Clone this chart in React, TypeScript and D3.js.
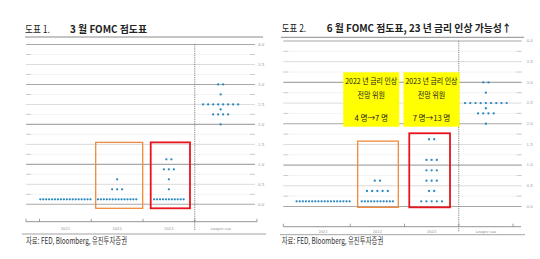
import React from 'react';
import * as d3 from 'd3';

const categories = ['2021', '2022', '2023', 'Longer run'];
const yTickValues = d3.range(0, 4.01, 0.25);
const yLabelValues = [0, 0.5, 1, 1.5, 2, 2.5, 3, 3.5, 4];

type DotRow = [string, number, number];

const marchDots: DotRow[] = [
  ['2021', 0.125, 18],
  ['2022', 0.125, 14], ['2022', 0.375, 3], ['2022', 0.625, 1],
  ['2023', 0.125, 11], ['2023', 0.375, 1], ['2023', 0.625, 1], ['2023', 0.875, 3], ['2023', 1.125, 2],
  ['Longer run', 2.0, 1], ['Longer run', 2.25, 4], ['Longer run', 2.375, 1], ['Longer run', 2.5, 8],
  ['Longer run', 2.75, 1], ['Longer run', 3.0, 2],
];

const juneDots: DotRow[] = [
  ['2021', 0.125, 18],
  ['2022', 0.125, 11], ['2022', 0.375, 5], ['2022', 0.625, 2],
  ['2023', 0.125, 5], ['2023', 0.375, 2], ['2023', 0.625, 3], ['2023', 0.875, 3], ['2023', 1.125, 3], ['2023', 1.625, 2],
  ['Longer run', 2.0, 1], ['Longer run', 2.25, 4], ['Longer run', 2.375, 1], ['Longer run', 2.5, 9],
  ['Longer run', 2.75, 1], ['Longer run', 3.0, 2],
];

const marchBoxes = [
  { cat: '2022', f0: 0.086, f1: 0.994, y0: -0.1, y1: 1.55, color: '#f08a3c', w: 1.3 },
  { cat: '2023', f0: 0.149, f1: 0.908, y0: -0.1, y1: 1.55, color: '#e8141c', w: 1.8 },
];
const juneBoxes = [
  { cat: '2022', f0: 0.137, f1: 0.886, y0: -0.02, y1: 1.58, color: '#f08a3c', w: 1.3 },
  { cat: '2023', f0: 0.088, f1: 0.839, y0: -0.02, y1: 1.77, color: '#e8141c', w: 1.8 },
];

const juneNotes = [
  { cat: '2022', lines: ['2022 년 금리 인상', '전망 위원', '4 명→7 명'] },
  { cat: '2023', lines: ['2023 년 금리 인상', '전망 위원', '7 명→13 명'] },
];

const FONT = "'Noto Sans CJK KR', 'Noto Sans', sans-serif";
const DOT = '#2a88c0';

interface PanelCfg {
  label: string;
  title: string;
  labelX: number; labelW: number;
  titleX: number; titleW: number; titleY: number;
  sepX0: number; sepX1: number; sepY: number;
  gridX0: number; gridX1: number; yLabelX: number;
  yBottom: number; yTop: number;
  band: [number, number];
  axisY: number; axisX0: number; axisX1: number;
  tickXs: number[];
  dashY0: number; dashY1: number;
  xLabelY: number;
  srcSepX0: number; srcSepX1: number; srcSepY: number;
  srcX: number; srcW: number; srcY: number;
  dots: DotRow[];
  boxes: typeof marchBoxes;
  wide: number; tight: number;
}

function Panel({ c, notes }: { c: PanelCfg; notes?: typeof juneNotes }) {
  const y = d3.scaleLinear().domain([0, 4]).range([c.yBottom, c.yTop]);
  const x = d3.scaleBand<string>().domain(categories).range(c.band).padding(0);
  const bw = x.bandwidth();
  const dashX = x('Longer run')!;
  const dotEls: React.ReactNode[] = [];
  c.dots.forEach(([cat, v, n], i) => {
    const sp = n > 9 ? c.tight : c.wide;
    const cx = x(cat)! + bw / 2;
    for (let k = 0; k < n; k++) {
      dotEls.push(
        <circle key={`${i}-${k}`} cx={cx + (k - (n - 1) / 2) * sp} cy={y(v)} r={1.15} fill={DOT} />
      );
    }
  });
  return (
    <g>
      <text x={c.labelX} y={c.titleY} fontSize={10} fontFamily={FONT} fill="#222" textLength={c.labelW} lengthAdjust="spacingAndGlyphs">{c.label}</text>
      <text x={c.titleX} y={c.titleY} fontSize={10.5} fontWeight="bold" fontFamily={FONT} fill="#222" textLength={c.titleW} lengthAdjust="spacingAndGlyphs">{c.title}</text>
      <line x1={c.sepX0} x2={c.sepX1} y1={c.sepY} y2={c.sepY} stroke="#8a8a8a" strokeWidth={1} />
      {yTickValues.map((v) => {
        const major = Math.abs(v - Math.round(v)) < 1e-6;
        const half = Math.abs(v * 2 - Math.round(v * 2)) < 1e-6;
        const yy = y(v);
        if (major) return <line key={v} x1={c.gridX0} x2={c.gridX1} y1={yy} y2={yy} stroke="#a8a8a8" strokeWidth={1.1} />;
        if (half) return <line key={v} x1={c.gridX0} x2={c.gridX1} y1={yy} y2={yy} stroke="#d2d2d2" strokeWidth={0.8} />;
        return (
          <g key={v}>
            <line x1={c.gridX0} x2={c.gridX1} y1={yy} y2={yy} stroke="#eeeeee" strokeWidth={0.7} />
            <line x1={c.gridX0} x2={c.gridX0 + 5} y1={yy} y2={yy} stroke="#c4c4c4" strokeWidth={0.8} />
            <line x1={c.gridX1 - 5} x2={c.gridX1} y1={yy} y2={yy} stroke="#c4c4c4" strokeWidth={0.8} />
          </g>
        );
      })}
      {yLabelValues.map((v) => (
        <text key={v} x={c.yLabelX} y={y(v) + 1.3} fontSize={4} fontFamily="'DejaVu Serif', serif" fill="#9a9a9a">{v.toFixed(1)}</text>
      ))}
      <line x1={dashX} x2={dashX} y1={c.dashY0} y2={c.dashY1} stroke="#666" strokeWidth={0.8} strokeDasharray="1.2,1" />
      <line x1={c.axisX0} x2={c.axisX1} y1={c.axisY} y2={c.axisY} stroke="#888" strokeWidth={0.9} />
      {c.tickXs.map((tx, i) => (
        <line key={i} x1={tx} x2={tx} y1={c.axisY} y2={c.axisY - 3} stroke="#888" strokeWidth={0.8} />
      ))}
      {categories.map((cat) => (
        <text key={cat} x={x(cat)! + bw / 2} y={c.xLabelY} fontSize={3.6} textAnchor="middle" fontFamily="'DejaVu Serif', serif" fill="#888">{cat}</text>
      ))}
      {c.boxes.map((b, i) => (
        <rect key={i} x={x(b.cat)! + b.f0 * bw} y={y(b.y1)} width={(b.f1 - b.f0) * bw} height={y(b.y0) - y(b.y1)} fill="none" stroke={b.color} strokeWidth={b.w} />
      ))}
      {dotEls}
      {notes && notes.map((nt, i) => {
        const bx = x(nt.cat)!;
        const x0 = nt.cat === '2022' ? bx - 7 : bx - 1;
        const w = 56;
        const cx = x0 + w / 2;
        return (
          <g key={i}>
            <rect x={x0} y={72.3} width={w} height={54.4} fill="#ffff00" />
            <text x={cx} y={83.5} fontSize={7.6} textAnchor="middle" fontFamily={FONT} fill="#222" textLength={52} lengthAdjust="spacingAndGlyphs">{nt.lines[0]}</text>
            <text x={cx} y={98} fontSize={7.6} textAnchor="middle" fontFamily={FONT} fill="#222" textLength={27.5} lengthAdjust="spacingAndGlyphs">{nt.lines[1]}</text>
            <text x={cx} y={121} fontSize={7.6} textAnchor="middle" fontFamily={FONT} fill="#222">{nt.lines[2]}</text>
          </g>
        );
      })}
      <line x1={c.srcSepX0} x2={c.srcSepX1} y1={c.srcSepY} y2={c.srcSepY} stroke="#8a8a8a" strokeWidth={0.8} />
      <text x={c.srcX} y={c.srcY} fontSize={8.6} fontFamily={FONT} fill="#333" textLength={c.srcW} lengthAdjust="spacingAndGlyphs">자료: FED, Bloomberg, 유진투자증권</text>
    </g>
  );
}

const leftCfg: PanelCfg = {
  label: '도표 1.', title: '3 월 FOMC 점도표',
  labelX: 25, labelW: 25, titleX: 70, titleW: 77, titleY: 33,
  sepX0: 25, sepX1: 263, sepY: 37,
  gridX0: 26, gridX1: 255, yLabelX: 258,
  yBottom: 204.3, yTop: 44.5,
  band: [39.5, 246.5],
  axisY: 221.7, axisX0: 26, axisX1: 257,
  tickXs: [26, 39.5, 91.25, 143, 194.75, 257],
  dashY0: 44, dashY1: 231,
  xLabelY: 229.5,
  srcSepX0: 22, srcSepX1: 266, srcSepY: 234,
  srcX: 26, srcW: 101, srcY: 244,
  dots: marchDots, boxes: marchBoxes,
  wide: 5, tight: 2.95,
};

const rightCfg: PanelCfg = {
  label: '도표 2.', title: '6 월 FOMC 점도표, 23 년 금리 인상 가능성↑',
  labelX: 281.7, labelW: 24.5, titleX: 326.7, titleW: 185, titleY: 31.5,
  sepX0: 281, sepX1: 524, sepY: 37.3,
  gridX0: 283.3, gridX1: 521.7, yLabelX: 526.5,
  yBottom: 206.5, yTop: 41,
  band: [296, 513],
  axisY: 226.7, axisX0: 283.3, axisX1: 521,
  tickXs: [283.3, 350.25, 404.5, 458.75, 513],
  dashY0: 41, dashY1: 232,
  xLabelY: 233,
  srcSepX0: 280, srcSepX1: 525, srcSepY: 234.7,
  srcX: 281.7, srcW: 101.6, srcY: 244,
  dots: juneDots, boxes: juneBoxes,
  wide: 5.2, tight: 3.12,
};

export default function App() {
  return (
    <svg width={540} height={259} style={{ position: 'absolute', left: 0, top: 0, background: '#fff' }}>
      <rect width={540} height={259} fill="#fff" />
      <Panel c={leftCfg} />
      <Panel c={rightCfg} notes={juneNotes} />
    </svg>
  );
}
